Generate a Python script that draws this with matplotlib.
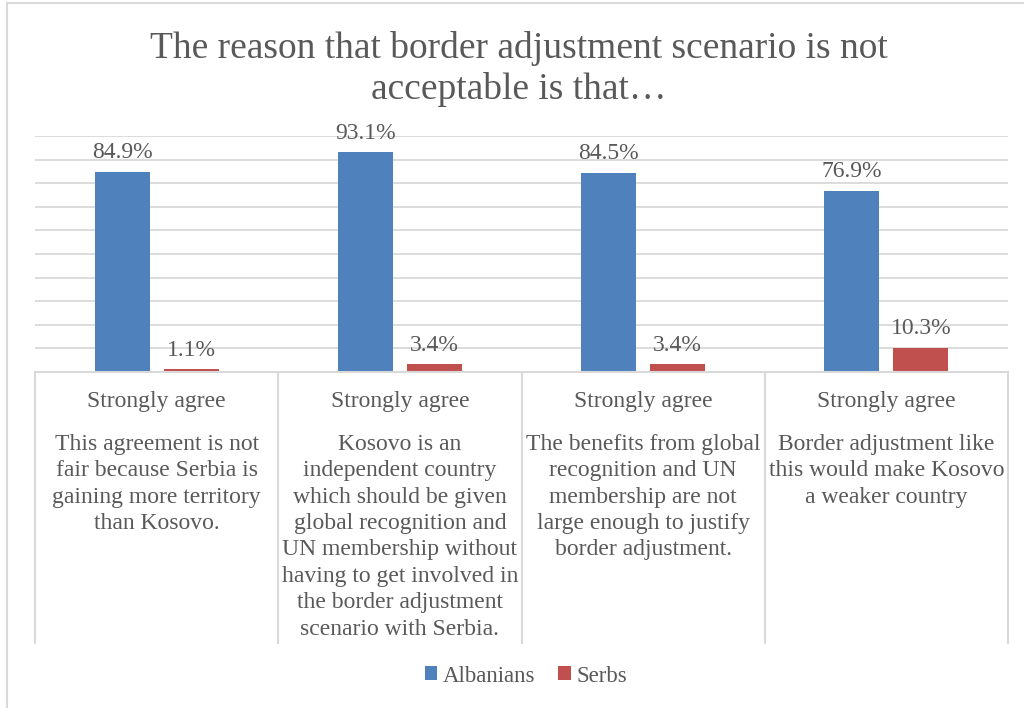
import matplotlib
matplotlib.use("Agg")
import matplotlib.pyplot as plt
from matplotlib.lines import Line2D
import numpy as np

# Survey results
level_label = "Strongly agree"
statements = [
    "This agreement is not\nfair because Serbia is\ngaining more territory\nthan Kosovo.",
    "Kosovo is an\nindependent country\nwhich should be given\nglobal recognition and\nUN membership without\nhaving to get involved in\nthe border adjustment\nscenario with Serbia.",
    "The benefits from global\nrecognition and UN\nmembership are not\nlarge enough to justify\nborder adjustment.",
    "Border adjustment like\nthis would make Kosovo\na weaker country",
]
albanians = [84.9, 93.1, 84.5, 76.9]
serbs = [1.1, 3.4, 3.4, 10.3]
series_names = ["Albanians", "Serbs"]

BLUE = "#4F81BD"
RED = "#C0504D"
TEXT = "#595959"
GRID = "#D9D9D9"
FONT = "Liberation Serif"

W, H = 1024, 708
fig = plt.figure(figsize=(W / 100, H / 100), dpi=100)
fig.patch.set_facecolor("white")

# outer chart frame (top and left edges visible)
fig.add_artist(Line2D([7 / W, 7 / W], [0, 1 - 3 / H], transform=fig.transFigure,
                      color=GRID, lw=1.5))
fig.add_artist(Line2D([7 / W, 1], [1 - 3 / H, 1 - 3 / H], transform=fig.transFigure,
                      color=GRID, lw=1.5))

left, right = 35 / W, 1008 / W
bottom, top = 1 - 372 / H, 1 - 136 / H
ax = fig.add_axes([left, bottom, right - left, top - bottom])
ax.set_xlim(-0.5, len(statements) - 0.5)
ax.set_ylim(0, 100)
for s in ax.spines.values():
    s.set_visible(False)
ax.set_xticks([])
ax.set_yticks(np.arange(10, 101, 10))
ax.tick_params(axis="y", length=0, labelleft=False)
ax.grid(axis="y", color=GRID, lw=1.3)
ax.set_axisbelow(True)

x = np.arange(len(statements))
bw = 0.226
off = 0.142
b1 = ax.bar(x - off, albanians, bw, color=BLUE, label=series_names[0], zorder=3)
b2 = ax.bar(x + off, serbs, bw, color=RED, label=series_names[1], zorder=3)
for bars, vals in ((b1, albanians), (b2, serbs)):
    for r, v in zip(bars, vals):
        ax.annotate(f"{v:.1f}%", (r.get_x() + r.get_width() / 2, v),
                    xytext=(0, 6), textcoords="offset points",
                    ha="center", va="bottom", fontsize=17, color=TEXT,
                    family=FONT)

# category table below the plot
tbl_bottom = 1 - 643 / H
fig.add_artist(Line2D([left, right], [bottom, bottom], transform=fig.transFigure,
                      color=GRID, lw=1.5))
cw = (right - left) / len(statements)
for i in range(len(statements) + 1):
    xx = left + i * cw
    fig.add_artist(Line2D([xx, xx], [tbl_bottom, bottom], transform=fig.transFigure,
                          color=GRID, lw=1.5))
for i, txt in enumerate(statements):
    cx = left + (i + 0.5) * cw
    fig.text(cx, 1 - 401 / H, level_label, ha="center", va="center",
             fontsize=17, color=TEXT, family=FONT)
    fig.text(cx, 1 - 434 / H, txt, ha="center", va="top", fontsize=17,
             color=TEXT, family=FONT, linespacing=1.335)

fig.text(0.507, 1 - 69 / H,
         "The reason that border adjustment scenario is not\nacceptable is that…",
         ha="center", va="center", fontsize=27, color=TEXT, family=FONT,
         linespacing=1.24)

leg = fig.legend(handles=[b1, b2], loc="center", bbox_to_anchor=(526 / W, 1 - 676 / H),
                 ncol=2, frameon=False, handlelength=0.55, handleheight=0.55,
                 handletextpad=0.25, columnspacing=1.0,
                 prop={"family": FONT, "size": 16.5})
for t in leg.get_texts():
    t.set_color(TEXT)

fig.savefig("out.png", dpi=100, facecolor="white")
